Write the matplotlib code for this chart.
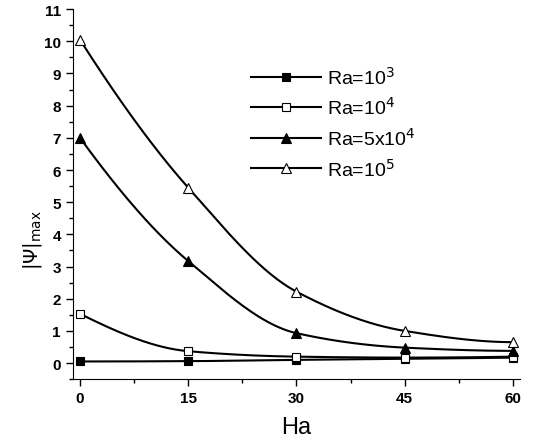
import numpy as np
import matplotlib
matplotlib.use("Agg")
import matplotlib.pyplot as plt
from matplotlib.ticker import MultipleLocator

plt.rcParams['font.family'] = ['Liberation Sans', 'DejaVu Sans']

ha = [0, 15, 30, 45, 60]
psi_ra1e3 = [0.05, 0.06, 0.10, 0.13, 0.17]
psi_ra1e4 = [1.53, 0.37, 0.20, 0.17, 0.20]
psi_ra5e4 = [7.00, 3.17, 0.93, 0.48, 0.38]
psi_ra1e5 = [10.05, 5.45, 2.22, 1.00, 0.65]
labels = [r'Ra=10$^3$', r'Ra=10$^4$', r'Ra=5x10$^4$', r'Ra=10$^5$']


def pchip(x, y, xs):
    # monotone cubic, like the smooth line the original software drew
    x = np.asarray(x, float)
    y = np.asarray(y, float)
    h = np.diff(x)
    d = np.diff(y) / h
    m = np.zeros_like(y)
    for k in range(1, len(x) - 1):
        if d[k - 1] * d[k] > 0:
            w1 = 2 * h[k] + h[k - 1]
            w2 = h[k] + 2 * h[k - 1]
            m[k] = (w1 + w2) / (w1 / d[k - 1] + w2 / d[k])
    m[0] = ((2 * h[0] + h[1]) * d[0] - h[0] * d[1]) / (h[0] + h[1])
    if m[0] * d[0] <= 0:
        m[0] = 0
    m[-1] = ((2 * h[-1] + h[-2]) * d[-1] - h[-1] * d[-2]) / (h[-1] + h[-2])
    if m[-1] * d[-1] <= 0:
        m[-1] = 0
    idx = np.clip(np.searchsorted(x, xs) - 1, 0, len(x) - 2)
    t = (xs - x[idx]) / h[idx]
    h00 = 2 * t**3 - 3 * t**2 + 1
    h10 = t**3 - 2 * t**2 + t
    h01 = -2 * t**3 + 3 * t**2
    h11 = t**3 - t**2
    return h00 * y[idx] + h10 * h[idx] * m[idx] + h01 * y[idx + 1] + h11 * h[idx] * m[idx + 1]


fig = plt.figure(figsize=(5.39, 4.39), dpi=100)
ax = fig.add_axes([0.135, 0.134, 0.83, 0.843])

series = [psi_ra1e3, psi_ra1e4, psi_ra5e4, psi_ra1e5]
markers = ['s', 's', '^', '^']
faces = ['black', 'white', 'black', 'white']
xs = np.linspace(0, 60, 300)
for ys, mk, fc, lab in zip(series, markers, faces, labels):
    ax.plot(xs, pchip(ha, ys, xs), color='black', lw=1.5, zorder=2)
    ax.plot(ha, ys, ls='none', marker=mk, mfc=fc, mec='black', mew=0.8,
            ms=6 if mk == 's' else 7, zorder=3)
    ax.plot([], [], color='black', lw=1.5, marker=mk, mfc=fc, mec='black',
            mew=0.8, ms=6 if mk == 's' else 7, label=lab)

ax.set_xlim(-1, 61)
ax.set_ylim(-0.5, 11)
ax.xaxis.set_major_locator(MultipleLocator(15))
ax.xaxis.set_minor_locator(MultipleLocator(7.5))
ax.yaxis.set_major_locator(MultipleLocator(1))
ax.yaxis.set_minor_locator(MultipleLocator(0.5))
ax.set_yticks(range(0, 12))
ax.spines['top'].set_visible(False)
ax.spines['right'].set_visible(False)
ax.tick_params(which='major', direction='out', length=5, width=1, labelsize=11)
ax.tick_params(which='minor', direction='out', length=3, width=1)
for lb in ax.get_xticklabels() + ax.get_yticklabels():
    lb.set_fontweight('bold')

ax.set_xlabel('Ha', fontsize=17, labelpad=8)
ax.set_ylabel(r'$|\Psi|_{\rm max}$', fontsize=14)
ax.yaxis.set_label_coords(-0.065, 0.38)

ax.legend(loc='upper left', bbox_to_anchor=(0.36, 0.895), frameon=False,
          fontsize=14, handlelength=3.6, labelspacing=0.45, handletextpad=0.3)

fig.savefig('out.png', dpi=100)
